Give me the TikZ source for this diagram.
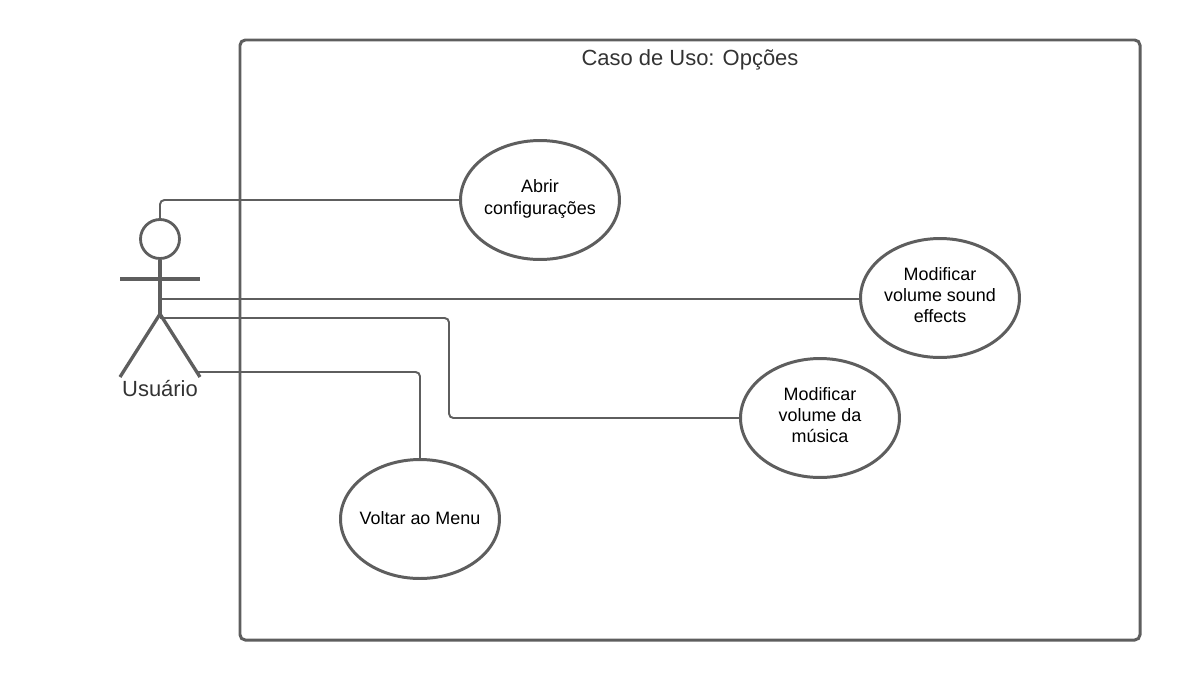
\documentclass[tikz,border=0pt]{standalone}
\usepackage{fontspec}
\setmainfont{Liberation Sans}
\newcommand{\liftText}{\rule[-3.4pt]{0pt}{3.4pt}}
\tikzset{
    usecase/.style={ellipse, draw=lineColour, line width=1.7pt, minimum width=3.18cm, minimum height=2.38cm, inner xsep=-3pt, inner ysep=0pt, align=center, font=\fontsize{10.2pt}{12.2pt}\selectfont},
    connector/.style={draw=lineColour, line width=1.1pt, rounded corners=2.5pt},
    actorLine/.style={draw=lineColour, line width=1.9pt}
}
\usetikzlibrary{shapes.geometric}
\begin{document}
\begin{tikzpicture}[x=0.02cm, y=-0.02cm]
    \definecolor{lineColour}{HTML}{5E5E5E}
    \definecolor{textColour}{HTML}{333333}

    \useasboundingbox (0,0) rectangle (1180,680);

    % Draw system boundary
    \draw[lineColour, line width=1.7pt, rounded corners=3pt] (240,40) rectangle (1140,640);
    \node[text=textColour, font=\fontsize{12.5pt}{14pt}\selectfont] (title) at (690,60) {Caso de Uso: Opções};

    % Use cases
    \node[usecase] (abrir) at (540,200) {Abrir\\configurações\liftText};
    \node[usecase] (sound) at (940,298) {Modificar\\volume sound\\effects\liftText};
    \node[usecase] (musica) at (820,418) {Modificar\\volume da\\música\liftText};
    \node[usecase] (voltar) at (420,519) {Voltar ao Menu\rule[-1.5pt]{0pt}{1.5pt}};

    % Actor
    \node[circle, draw=lineColour, line width=1.6pt, minimum size=0.78cm, inner sep=0pt] (head) at (160,239) {};
    \coordinate (hip) at (160,314);
    \coordinate (handL) at (120,279);
    \coordinate (handR) at (200,279);
    \coordinate (footL) at (120,377);
    \coordinate (footR) at (200,377);
    \draw[actorLine] (head.south) -- (hip);
    \draw[actorLine] (handL) -- (handR);
    \draw[actorLine] (footL) -- (hip) -- (footR);
    \node[text=textColour, font=\fontsize{12.5pt}{14pt}\selectfont] (usuario) at (160,389) {Usuário};

    % Connectors
    \coordinate (waist) at (160,299);
    \coordinate (crotch) at (160,318);
    \coordinate (leg) at (197,372);
    \draw[connector] (head.north) |- (abrir.west);
    \draw[connector] (waist) -- (waist -| sound.west);
    \draw[connector] (crotch) -- (449,318) -- (449,418) -- (musica.west);
    \draw[connector] (leg) -| (voltar.north);

\end{tikzpicture}
\end{document}
